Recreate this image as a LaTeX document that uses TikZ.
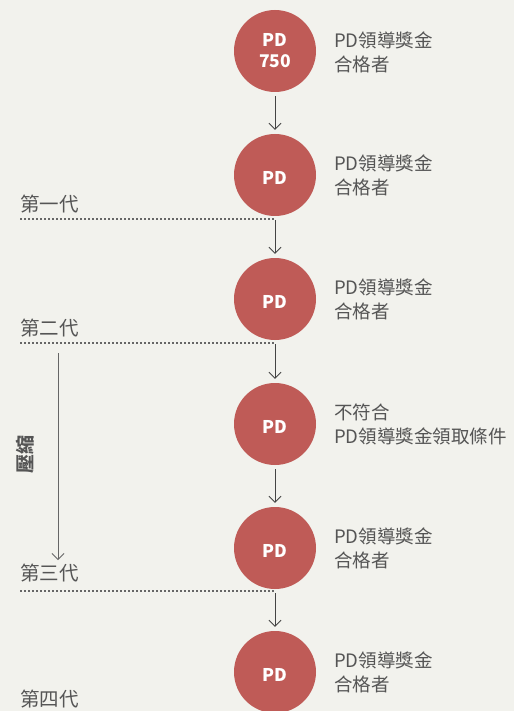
\documentclass[tikz,border=0pt]{standalone}
\usepackage{fontspec}
\setmainfont{Noto Sans CJK TC}
\usetikzlibrary{arrows.meta}
\definecolor{bg}{HTML}{F2F2ED}
\definecolor{pdred}{HTML}{BF5B57}
\definecolor{txt}{HTML}{555555}
\definecolor{ln}{HTML}{444444}
\begin{document}
\begin{tikzpicture}[x=1pt,y=-1pt,
  pd/.style={circle,fill=pdred,minimum size=82pt,inner sep=0pt,text=white,font=\fontsize{17.5}{21}\selectfont\bfseries,align=center,text height=19.8pt,text depth=0pt},
  pdtwo/.style={pd,text height=34pt,text depth=1.2pt},
  desc/.style={anchor=west,text=txt,font=\fontsize{18.5}{24}\selectfont,align=left,inner sep=0pt},
  gen/.style={anchor=west,text=txt,font=\fontsize{19.5}{22}\selectfont,inner sep=0pt},
  flow/.style={draw=ln,line width=0.8pt,-{Straight Barb[length=6pt,width=12pt]}},
  sep/.style={draw=txt!90,line width=1.2pt,dash pattern=on 2pt off 2pt}]
\fill[bg] (0,0) rectangle (514,711);
\useasboundingbox (0,0) rectangle (514,711);
\node[pdtwo] (c1) at (275,51) {PD\\750};
\node[pd] (c2) at (275,175) {PD};
\node[pd] (c3) at (275,299) {PD};
\node[pd] (c4) at (275,424) {PD};
\node[pd] (c5) at (275,548) {PD};
\node[pd] (c6) at (275,672) {PD};
\node[desc] (d1) at (334,52) {PD領導獎金\\合格者};
\node[desc] (d2) at (334,175) {PD領導獎金\\合格者};
\node[desc] (d3) at (334,299) {PD領導獎金\\合格者};
\node[desc] (d4) at (334,424) {不符合\\PD領導獎金領取條件};
\node[desc] (d5) at (334,548) {PD領導獎金\\合格者};
\node[desc] (d6) at (334,672) {PD領導獎金\\合格者};
\foreach \a/\b in {c1/c2,c2/c3,c3/c4,c4/c5,c5/c6}
  \draw[flow] ([yshift=-4pt]\a.south) -- ([yshift=4pt]\b.north);
\node[gen] (g1) at (20,204) {第一代};
\node[gen] (g2) at (20,328) {第二代};
\node[gen] (g3) at (20,573) {第三代};
\node[gen] (g4) at (20,699) {第四代};
\coordinate (s1a) at (20,219); \coordinate (s1b) at (275,219);
\coordinate (s2a) at (20,343); \coordinate (s2b) at (275,343);
\coordinate (s3a) at (20,591); \coordinate (s3b) at (275,591);
\draw[sep] (s1a) -- (s1b);
\draw[sep] (s2a) -- (s2b);
\draw[sep] (s3a) -- (s3b);
\coordinate (k1) at (58,353); \coordinate (k2) at (58,560);
\draw[flow,draw=txt!90] (k1) -- (k2);
\node[rotate=90,text=txt,font=\fontsize{19}{20}\selectfont\bfseries,inner sep=0pt] (ys) at (25,454) {壓縮};
\end{tikzpicture}
\end{document}
